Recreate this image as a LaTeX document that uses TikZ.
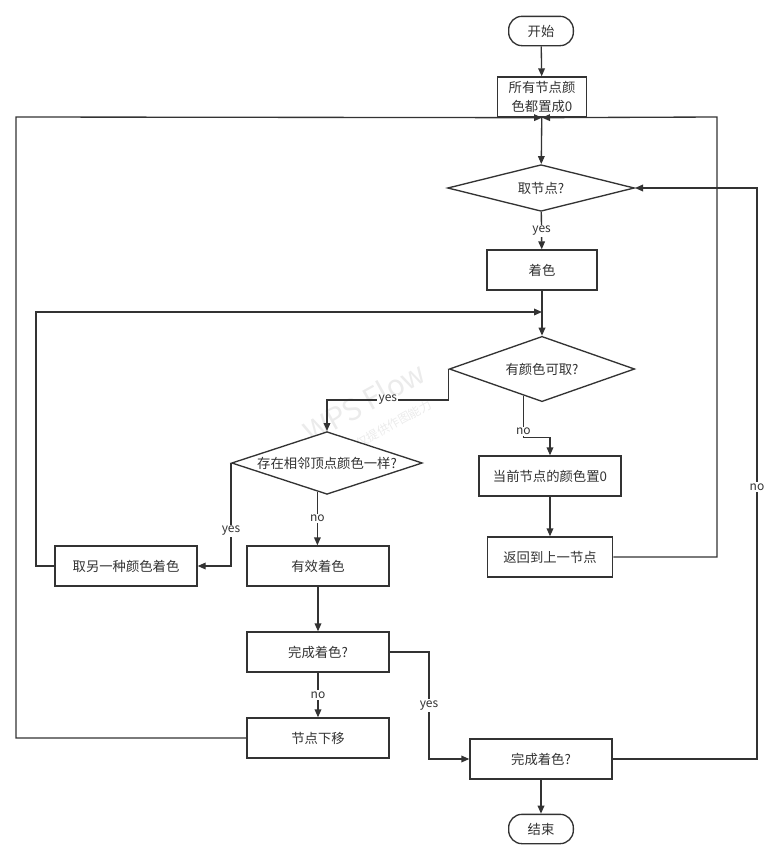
\documentclass[tikz,border=0pt]{standalone}
\usepackage{fontspec}
\setmainfont{Noto Sans CJK SC}
\usetikzlibrary{shapes.geometric,arrows.meta,positioning,calc}
\definecolor{Ink}{HTML}{333333}
\definecolor{Mark}{HTML}{EBEBEB}

\begin{document}
\begin{tikzpicture}[x=0.75pt,y=-0.75pt,
  every node/.style={font=\fontsize{10pt}{12pt}\selectfont,text=Ink},
  term/.style={draw=Ink,line width=1pt,rounded corners=10pt,minimum width=48.5pt,minimum height=22pt,fill=white},
  box/.style={draw=Ink,line width=1pt,minimum width=106.5pt,minimum height=30pt,fill=white},
  decis/.style={draw=Ink,line width=1pt,diamond,aspect=3,inner sep=0pt,fill=white},
  lbl/.style={fill=white,inner sep=1pt,font=\fontsize{9pt}{10pt}\selectfont},
  arr/.style={-{Triangle[length=6pt,width=5pt]},line width=1pt,Ink}]
  \useasboundingbox (0,0) rectangle (774,860);
  % watermark
  \node[rotate=29,text=Mark,font=\fontsize{22pt}{22pt}\selectfont] (wm) at (364,402) {WPS Flow};
  \node[rotate=29,text=Mark,font=\fontsize{9pt}{9pt}\selectfont] (wm2) at (383,430) {WPS仅提供作图能力};
  % nodes
  \node[term] (start) at (541,31) {开始};
  \node[box,minimum width=66.75pt,align=center,inner sep=1pt,font=\fontsize{10pt}{14pt}\selectfont] (init) at (542,97) {所有节点颜\\色都置成0};
  \node[decis,minimum width=140pt,minimum height=35pt] (pick) at (541,188) {取节点?};
  \node[box,minimum width=82.5pt] (paint) at (542,270) {着色};
  \node[decis,minimum width=139pt,minimum height=49pt] (avail) at (542,369) {有颜色可取?};
  \node[decis,minimum width=143pt,minimum height=47pt] (same) at (327,463) {存在相邻顶点颜色一样?};
  \node[box] (reset) at (550,476) {当前节点的颜色置0};
  \node[box,minimum width=94pt] (back) at (550,557) {返回到上一节点};
  \node[box] (other) at (126,566) {取另一种颜色着色};
  \node[box] (valid) at (318,566) {有效着色};
  \node[box] (done) at (318,652) {完成着色?};
  \node[box] (down) at (318,738) {节点下移};
  \node[box] (done2) at (541,759) {完成着色?};
  \node[term] (stop) at (541,829) {结束};
  % bends
  \coordinate (lft1) at (36,312);
  \coordinate (lft2) at (16,117);
  \coordinate (rgt1) at (717,117);
  \coordinate (rgt2) at (757,188);
  \coordinate (nofrom) at ($(avail.south)!0.2!(avail.west)$);
  \coordinate (nobend) at ($(nofrom)+(0,42)$);
  \coordinate (sno) at ($(same.south)!0.1!(same.west)$);
  \coordinate (ybend) at (429,652);
  % edges
  \draw[arr] (start) -- (init);
  \draw[arr] (init) -- (pick);
  \draw[arr] (pick) -- node[lbl]{yes} (paint);
  \draw[arr] (paint) -- (avail);
  \draw[arr] (other.west) -| (lft1) -- (lft1 -| paint.south);
  \draw[arr] (avail.west) -- ++(0,31) -| node[lbl,pos=0.25]{yes} (same.north);
  \draw[arr] (nofrom) -- node[lbl,pos=0.85]{no} (nobend) -| (reset.north);
  \draw[arr] (reset) -- (back);
  \draw[arr] (back.east) -| (rgt1) -- (init.south);
  \draw[arr] (same.west) |- node[lbl,pos=0.33]{yes} (other.east);
  \draw[arr] (sno) -- node[lbl]{no} (sno |- valid.north);
  \draw[arr] (valid) -- (done);
  \draw[arr] (done) -- node[lbl]{no} (down);
  \draw[arr] (down.west) -| (lft2) -- (init.south);
  \draw[arr] (done.east) -- (ybend) |- node[lbl,pos=0.25]{yes} (done2.west);
  \draw[arr] (done2.east) -- (done2.east -| rgt2) -- node[lbl,pos=0.476]{no} (rgt2) -- (pick.east);
  \draw[arr] (done2) -- (stop);
\end{tikzpicture}
\end{document}
